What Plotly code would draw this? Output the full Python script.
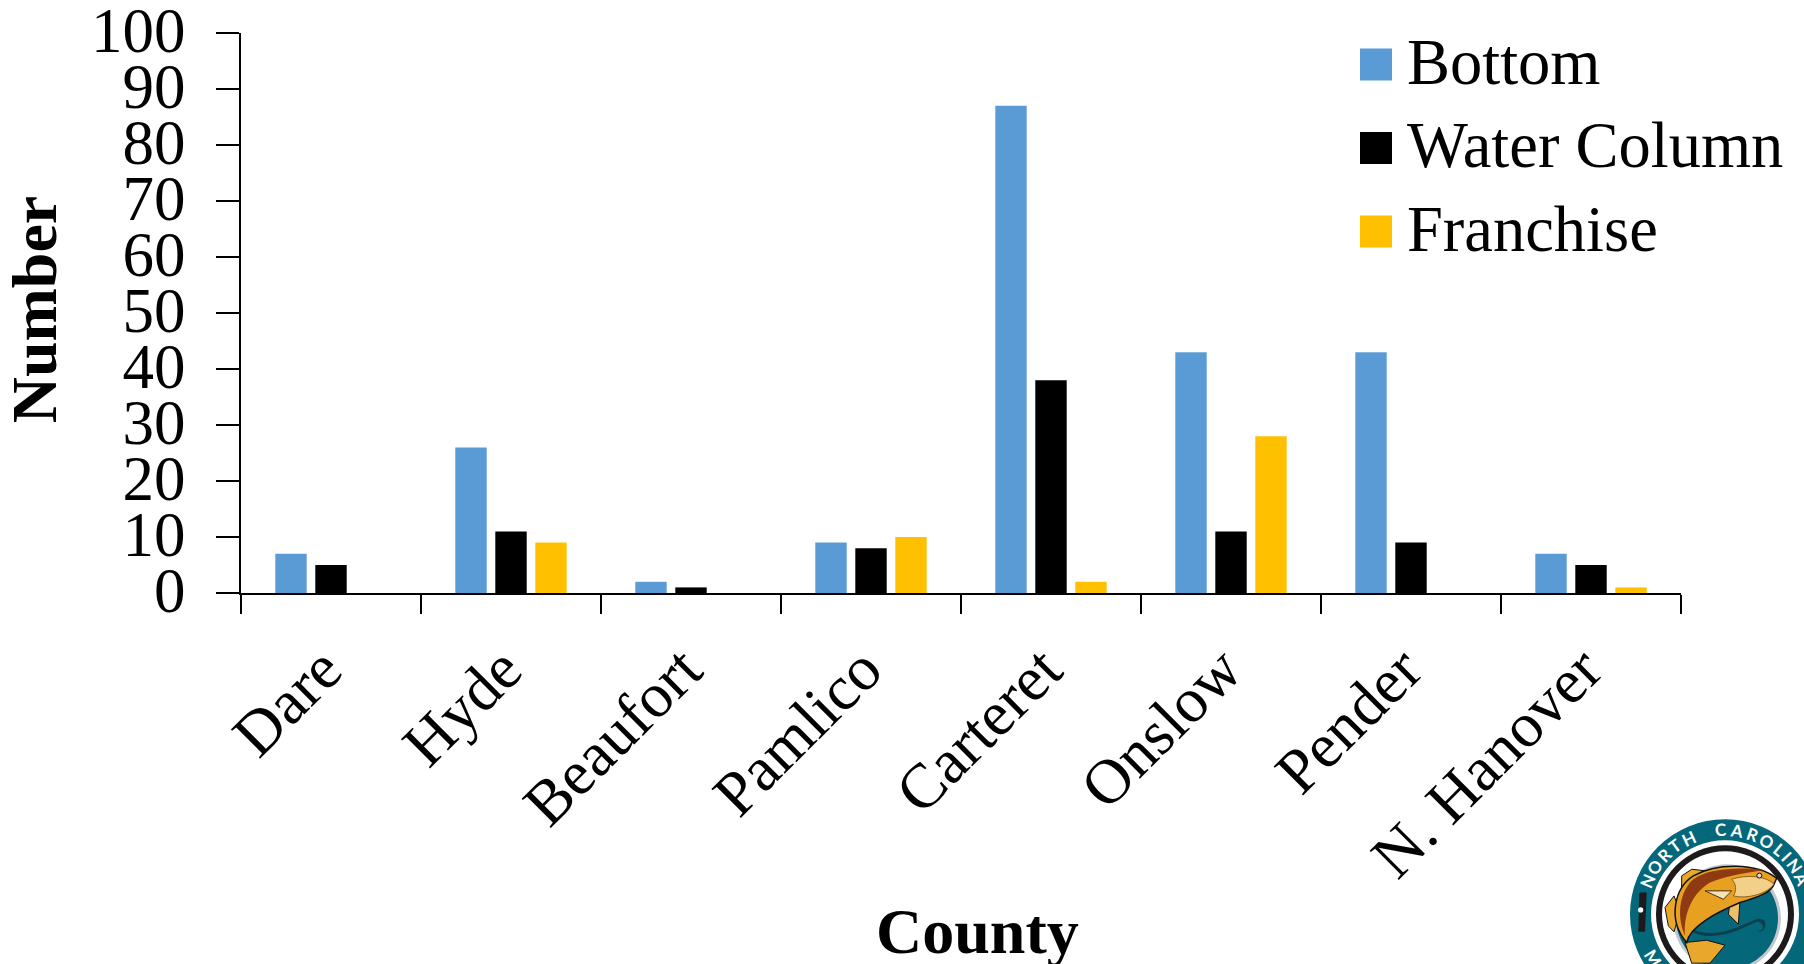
import math
import plotly.graph_objects as go

counties = ["Dare", "Hyde", "Beaufort", "Pamlico", "Carteret", "Onslow", "Pender", "N. Hanover"]
bottom = [7, 26, 2, 9, 87, 43, 43, 7]
water_column = [5, 11, 1, 8, 38, 11, 9, 5]
franchise = [0, 9, 0, 10, 2, 28, 0, 1]
y_ticks = [0, 10, 20, 30, 40, 50, 60, 70, 80, 90, 100]

W, H = 1804, 964
L, R, T, B = 241, 1681, 33, 593.5
SERIF = "Liberation Serif"
FS_TICK = 63
FS_TITLE = 64
FS_LEGEND = 64.5


def xp(px):
    return (px - L) / (R - L)


def yp(py):
    return (B - py) / (B - T)


def zpt(c):
    return f"{xp(1550 + c[0] / 3):.5f},{yp(780 + c[1] / 3):.5f}"


def poly(pts):
    return "M " + " L ".join(zpt(p) for p in pts) + " Z"


def curve(start, segs):
    s = "M " + zpt(start)
    for a, b, c in segs:
        s += f" C {zpt(a)} {zpt(b)} {zpt(c)}"
    return s + " Z"


fig = go.Figure()
for name, vals, col in [("Bottom", bottom, "#5B9BD5"),
                        ("Water Column", water_column, "#000000"),
                        ("Franchise", franchise, "#FFC000")]:
    fig.add_bar(name=name, x=counties, y=vals, marker=dict(color=col, line_width=0))

# logo
CX, CY = 1725, 915
shapes = []


def disc(r, fill, cx=CX, cy=CY, line=None, lw=0):
    shapes.append(dict(type="circle", xref="paper", yref="paper",
                       x0=xp(cx - r), x1=xp(cx + r), y0=yp(cy + r), y1=yp(cy - r),
                       fillcolor=fill, line=dict(color=line or fill, width=lw), layer="above"))


def blob(path, fill, line=None, lw=0):
    shapes.append(dict(type="path", xref="paper", yref="paper", path=path,
                       fillcolor=fill, line=dict(color=line or fill, width=lw), layer="above"))


TEAL = "#04677A"
disc(95, TEAL)
disc(74, "#FFFFFF")
disc(69, "#1C1A1A")
disc(63, "#FFFFFF")
disc(54, "#C4C8CE", cx=CX + 2, cy=CY + 4)
disc(51, TEAL, cx=CX + 2, cy=CY + 4)
# black band and dot on the outer ring
blob(poly([(268, 340), (290, 340), (285, 458), (265, 458)]), "#1C1A1A")
disc(2.6, "#FFFFFF", cx=1550 + 272 / 3, cy=780 + 392 / 3)
# wave lines in the disc
blob(curve((430, 452), [((500, 480), (570, 440), (620, 420)), ((660, 410), (650, 470), (620, 455)),
                        ((650, 460), (640, 425), (620, 428)), ((570, 450), (500, 490), (430, 460))]), "#0B3F4C")
# fins behind the body
blob(poly([(395, 335), (395, 290), (425, 270), (470, 275), (430, 315)]), "#E9A72C", "#111111", 1)
blob(poly([(372, 350), (345, 385), (355, 440), (372, 458), (390, 395)]), "#E9A72C", "#111111", 1)
blob(poly([(405, 490), (470, 483), (525, 498), (480, 552), (425, 552)]), "#E9A72C", "#111111", 1)
blob(poly([(540, 370), (535, 405), (565, 435), (570, 365)]), "#EDBE6A", "#111111", 1)
# body
blob(curve((680, 297), [((620, 250), (500, 250), (430, 290)), ((375, 325), (350, 420), (410, 490)),
                        ((420, 440), (500, 400), (570, 370)), ((620, 355), (665, 340), (672, 315))]),
     "#E8A020", "#111111", 1.5)
blob(curve((640, 272), [((560, 262), (470, 270), (430, 300)), ((395, 330), (375, 400), (405, 470)),
                        ((400, 400), (430, 340), (480, 310)), ((540, 285), (600, 280), (640, 272))]), "#8F3A12")
blob(curve((545, 300), [((590, 285), (650, 290), (672, 315)), ((650, 345), (590, 360), (550, 350)),
                        ((560, 335), (560, 315), (545, 300))]), "#F3D08A", "#7A4A10", 0.8)
blob(poly([(465, 335), (545, 335), (520, 360)]), "#F6E3B5", "#111111", 0.8)
disc(2.5, "#D6DCE0", cx=1550 + 628 / 3, cy=780 + 289 / 3, line="#111111", lw=1)

annotations = [
    dict(text="<b>County</b>", x=xp(978), y=yp(932), xref="paper", yref="paper", showarrow=False,
         xanchor="center", yanchor="middle", font=dict(family=SERIF, size=FS_TITLE)),
    dict(text="<b>Number</b>", x=xp(34), y=yp(309.5), xref="paper", yref="paper", showarrow=False,
         textangle=-90, xanchor="center", yanchor="middle", font=dict(family=SERIF, size=FS_TITLE)),
]


def letter(ch, deg, r=84.5, bottom_arc=False):
    a = math.radians(deg)
    px = CX + r * math.cos(a)
    py = CY - r * math.sin(a)
    rot = (270 - deg) if bottom_arc else (90 - deg)
    annotations.append(dict(text=ch, x=xp(px), y=yp(py), xref="paper", yref="paper",
                            showarrow=False, textangle=rot, xanchor="center", yanchor="middle",
                            font=dict(family="Lato", size=17, color="#FFFFFF", weight="bold")))


for ch, d in zip("NORTH", [157, 146.5, 136, 126, 115.5]):
    letter(ch, d)
for ch, d in zip("CAROLINA", [93, 82, 71, 60, 50, 43, 35, 25]):
    letter(ch, d)
for ch, d in [("M", 211), ("A", 222)]:
    letter(ch, d, bottom_arc=True)

fig.update_layout(
    width=W, height=H, autosize=False,
    margin=dict(l=L, r=W - R, t=T, b=H - B, pad=0),
    paper_bgcolor="#FFFFFF", plot_bgcolor="#FFFFFF",
    font=dict(family=SERIF, size=FS_TICK, color="#000000"),
    barmode="group", bargap=1 / 3, bargroupgap=0.215,
    showlegend=True,
    legend=dict(x=xp(1343), y=yp(21), xanchor="left", yanchor="top",
                bgcolor="rgba(0,0,0,0)", borderwidth=0, itemwidth=54,
                font=dict(family=SERIF, size=FS_LEGEND, color="#000000"),
                traceorder="normal"),
    shapes=shapes, annotations=annotations,
    xaxis=dict(type="category", range=[-0.5, 7.5], tickson="boundaries", ticks="outside", ticklen=19,
               tickwidth=2, tickcolor="#000000", showline=True, linecolor="#000000", linewidth=2,
               tickangle=-45, showgrid=False, zeroline=False, automargin=False, ticklabelstandoff=12,
               ticklabelshift=-8, ticklabeloverflow="allow",
               tickfont=dict(family=SERIF, size=FS_TICK)),
    yaxis=dict(range=[0, 100], tickvals=y_ticks, ticks="outside", ticklen=23, tickwidth=2,
               tickcolor="#000000", showline=True, linecolor="#000000", linewidth=2,
               showgrid=False, zeroline=False, automargin=False, ticklabelstandoff=18,
               ticklabelshift=-3, ticklabeloverflow="allow",
               tickfont=dict(family=SERIF, size=FS_TICK)),
)

post = """
(function(){
  document.body.style.margin='0';
  var gd=document.getElementById('{plot_id}');
  function fix(){
    gd.querySelectorAll('.legend .legendpoints path').forEach(function(p){
      p.setAttribute('d','M16,16H-16V-16H16Z');
      p.setAttribute('transform','translate(33,0)');
    });
    gd.querySelectorAll('.legend .traces').forEach(function(t,i){
      t.setAttribute('transform','translate(0,'+(43.5+i*83.5)+')');
      var x=t.querySelector('.legendtext');
      if(x){x.setAttribute('transform','translate(0,-6)');}
    });
  }
  fix();
  if(gd.on){gd.on('plotly_afterplot',fix);}
  setTimeout(fix,50);
})();
"""
fig.write_html("out.html", post_script=post, config=dict(displayModeBar=False))
